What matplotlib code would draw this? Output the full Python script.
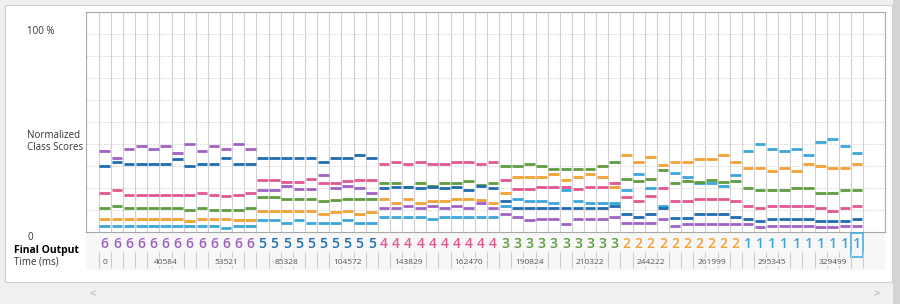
import matplotlib
matplotlib.use('Agg')
import matplotlib.pyplot as plt
from matplotlib.patches import Rectangle

plt.rcParams['font.family'] = ['Open Sans', 'DejaVu Sans']

# normalized class scores (%) for each of the 63 frames
class1 = [2.6, 2.6, 2.6, 2.6, 2.6, 2.6, 2.6, 2.6, 2.6, 2.6, 1.7, 2.7, 2.7,
          5.2, 5.2, 3.8, 5.2, 3.8, 3.8, 3.8, 5.2, 3.8, 3.8,
          6.6, 6.6, 6.6, 6.6, 5.8, 6.6, 6.6, 6.6, 6.6, 6.6,
          11.9, 14.8, 13.9, 13.9, 13.2, 19.0, 13.9, 13.2, 13.2, 13.2,
          19.0, 26.2, 19.8, 11.7, 26.9, 24.8, 22.1, 22.3, 20.8, 25.8,
          36.9, 40.0, 37.8, 36.9, 37.8, 35.0, 40.7, 42.1, 39.2, 36.0]
class2 = [5.9, 5.9, 5.9, 5.9, 5.9, 5.9, 5.9, 5.0, 5.9, 5.9, 5.9, 5.2, 5.2,
          9.3, 9.3, 9.3, 9.3, 9.3, 7.9, 9.0, 9.3, 7.9, 9.0,
          14.8, 13.2, 14.8, 13.2, 13.9, 13.9, 14.8, 14.8, 14.4, 13.2,
          17.8, 24.9, 24.9, 24.9, 26.4, 23.6, 24.9, 26.4, 24.9, 20.5,
          35.0, 31.8, 33.9, 30.3, 31.8, 31.8, 33.0, 33.0, 35.0, 31.8,
          28.9, 28.9, 27.8, 28.9, 27.8, 30.9, 29.9, 28.9, 28.9, 30.9]
class3 = [10.8, 11.9, 10.8, 10.8, 10.8, 10.8, 10.8, 9.8, 10.8, 9.8, 9.8, 9.8, 10.8,
          16.0, 16.0, 14.8, 14.8, 14.8, 13.9, 14.4, 14.8, 14.8, 14.8,
          22.1, 22.1, 20.2, 22.1, 20.8, 22.1, 22.1, 22.9, 21.3, 22.1,
          30.1, 30.1, 31.0, 30.1, 28.7, 28.7, 28.7, 28.7, 30.1, 31.8,
          23.9, 23.1, 23.9, 28.1, 22.1, 23.1, 22.8, 23.6, 22.8, 23.1,
          19.8, 19.0, 19.0, 19.0, 19.8, 19.8, 17.8, 17.8, 19.0, 19.0]
class4 = [17.8, 19.0, 16.7, 16.7, 16.7, 16.7, 16.7, 16.7, 17.8, 16.7, 16.1, 16.7, 17.8,
          23.6, 23.6, 22.8, 22.8, 23.9, 22.3, 22.3, 23.1, 23.6, 23.6,
          31.0, 31.8, 31.0, 31.8, 31.0, 31.0, 31.8, 31.8, 31.0, 31.8,
          23.6, 19.6, 19.6, 20.5, 20.5, 20.5, 19.6, 20.5, 20.5, 22.1,
          16.0, 14.0, 16.3, 19.8, 14.0, 14.0, 14.8, 14.8, 14.8, 14.0,
          11.9, 10.8, 11.9, 11.9, 11.9, 11.9, 10.8, 9.6, 10.8, 11.9]
class5 = [30.1, 31.8, 31.0, 31.0, 31.0, 31.0, 33.1, 30.1, 31.0, 31.0, 33.7, 31.0, 31.0,
          33.7, 33.7, 33.7, 33.7, 33.7, 31.8, 33.7, 33.7, 35.0, 33.7,
          19.8, 20.5, 20.5, 19.8, 20.5, 19.8, 20.5, 19.0, 20.8, 19.8,
          13.9, 10.7, 10.7, 10.7, 10.7, 10.7, 10.7, 10.7, 10.7, 11.7,
          7.9, 6.7, 7.9, 10.7, 6.2, 6.2, 7.9, 7.9, 7.9, 6.7,
          5.9, 5.0, 5.9, 5.9, 5.9, 5.9, 5.0, 5.0, 5.0, 5.9]
class6 = [36.9, 33.7, 37.7, 39.1, 37.7, 39.1, 35.9, 40.0, 36.9, 39.1, 37.7, 40.0, 37.7,
          18.9, 18.9, 20.7, 19.6, 19.6, 26.0, 19.8, 20.8, 19.8, 17.8,
          10.7, 10.7, 11.9, 10.7, 11.9, 10.7, 11.9, 10.7, 13.2, 10.7,
          7.9, 6.6, 5.2, 5.8, 5.8, 3.6, 5.8, 5.8, 5.8, 6.6,
          3.8, 3.8, 3.8, 5.8, 2.6, 3.6, 3.6, 3.6, 3.6, 3.6,
          3.4, 2.0, 2.7, 2.7, 2.7, 2.7, 2.0, 2.0, 2.7, 2.7]

final_output = [6] * 13 + [5] * 10 + [4] * 10 + [3] * 10 + [2] * 10 + [1] * 10

time_cols = [0, 5, 10, 15, 20, 25, 30, 35, 40, 45, 50, 55, 60]
time_labels = ['0', '40584', '53521', '85328', '104572', '143829', '162470',
               '190824', '210322', '244222', '261999', '295345', '329499']

scores = {1: class1, 2: class2, 3: class3, 4: class4, 5: class5, 6: class6}
colors = {1: '#3ba7d9', 2: '#f2a134', 3: '#5e9c3e', 4: '#e2578f',
          5: '#1f6db0', 6: '#9f62c4'}

W, H = 900, 304
fig = plt.figure(figsize=(W / 100, H / 100), dpi=100)
fig.patch.set_facecolor('#f0f0f0')


def fx(x):
    return x / W


def fy(y):
    return 1 - y / H


def frect(x0, y0, x1, y1, **kw):
    fig.patches.append(Rectangle((fx(x0), fy(y1)), fx(x1) - fx(x0), fy(y0) - fy(y1),
                                 transform=fig.transFigure, zorder=-5, **kw))


# panel backgrounds
frect(5, 5, 892, 282, facecolor='white', edgecolor='#d0d0d0', lw=0.8)
frect(86, 232, 885, 270, facecolor='#f7f7f7', edgecolor='none')
frect(86, 286, 885, 302, facecolor='#f0f0f0', edgecolor='none')
frect(893, 0, 900, 304, facecolor='#d4d4d4', edgecolor='none')

n = len(final_output)
xmin, xmax = -1.05, 64.8

ax = fig.add_axes([fx(86), fy(231.7), fx(885) - fx(86), fy(12.3) - fy(231.7)])
ax.set_xlim(xmin, xmax)
ax.set_ylim(0, 100)
ax.set_facecolor('white')
ax.set_xticks([])
ax.set_yticks([])
for s in ax.spines.values():
    s.set_color('#a8a8a8')
    s.set_linewidth(0.8)

ax.hlines(range(10, 100, 10), xmin, xmax, colors='#d6d6d6', lw=0.7,
          linestyles=(0, (1.5, 1.5)))
ax.vlines(range(n + 1), 0, 100, colors='#d0d0d0', lw=0.8)

cols = list(range(n))
for c in [1, 2, 3, 4, 5, 6]:
    ax.hlines(scores[c], [i + 0.06 for i in cols], [i + 0.94 for i in cols],
              colors=colors[c], lw=2.0)

# rows under the chart
axb = fig.add_axes([fx(86), fy(270), fx(885) - fx(86), fy(232) - fy(270)])
axb.set_xlim(xmin, xmax)
axb.set_ylim(270, 232)
axb.axis('off')

for i, d in enumerate(final_output):
    axb.text(i + 0.5, 243.5, str(d), color=colors[d], ha='center', va='center',
             fontsize=10, fontweight='semibold')
axb.add_patch(Rectangle((n - 1, 232.5), 1, 24, fill=False,
                        edgecolor=colors[1], lw=1.1))

axb.vlines(range(n + 1), 252, 268, colors='#cccccc', lw=0.8)
for c, lab in zip(time_cols, time_labels):
    axb.text(c + 0.5, 262, lab, fontsize=6, color='#555555', ha='center',
             va='center', bbox=dict(facecolor='#f7f7f7', edgecolor='none', pad=0.6))

# left hand labels
fig.text(fx(27), fy(32), '100 %', fontsize=7, color='#333333', va='center')
fig.text(fx(27), fy(135), 'Normalized', fontsize=7, color='#333333', va='center')
fig.text(fx(27), fy(147.5), 'Class Scores', fontsize=7, color='#333333', va='center')
fig.text(fx(27), fy(238), '0', fontsize=7, color='#333333', va='center')
fig.text(fx(14), fy(251), 'Final Output', fontsize=7.5, fontweight='bold',
         color='black', va='center')
fig.text(fx(14), fy(262.5), 'Time (ms)', fontsize=7, color='#333333', va='center')

fig.text(fx(93), fy(295), '<', fontsize=8, color='#a8a8a8', ha='center', va='center')
fig.text(fx(877), fy(295), '>', fontsize=8, color='#a8a8a8', ha='center', va='center')

fig.savefig('out.png', dpi=100, facecolor=fig.get_facecolor())
